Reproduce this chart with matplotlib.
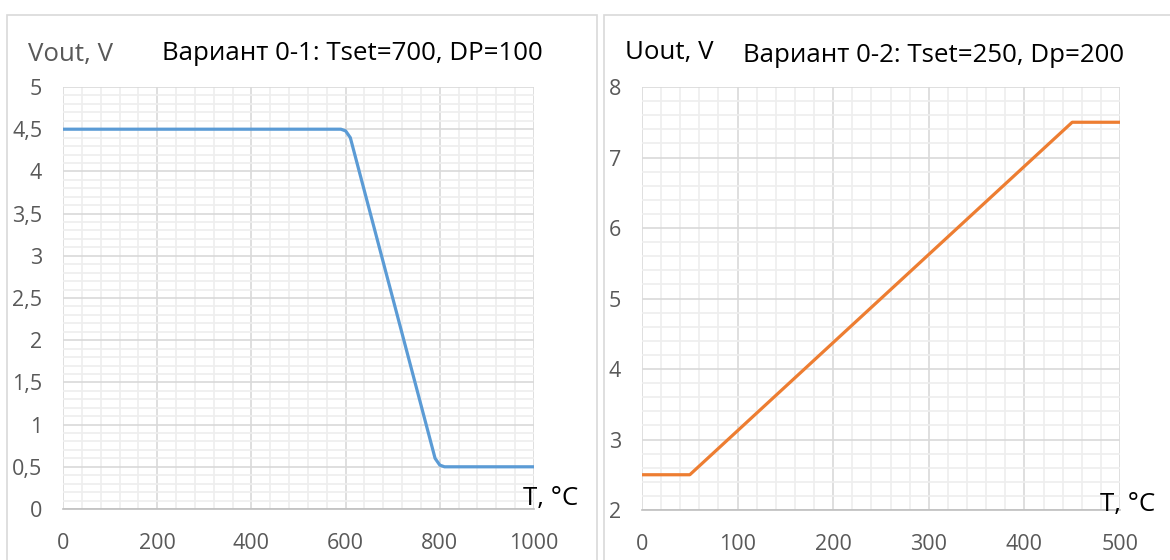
import matplotlib
matplotlib.use("Agg")
import matplotlib.pyplot as plt
from matplotlib.patches import Rectangle
import numpy as np

plt.rcParams['font.family'] = ['Open Sans', 'DejaVu Sans']

# Data: panel 1
t1 = [0, 590, 600, 610, 790, 800, 810, 1000]
v1 = [4.5, 4.5, 4.48, 4.4, 0.6, 0.52, 0.5, 0.5]
# Data: panel 2
t2 = [0, 50, 450, 500]
v2 = [2.5, 2.5, 7.5, 7.5]

title1 = "Вариант 0-1: Tset=700, DP=100"
title2 = "Вариант 0-2: Tset=250, Dp=200"
ylab1 = "Vout, V"
ylab2 = "Uout, V"
xlab = "T, °C"

W, H = 1170, 560
fig = plt.figure(figsize=(W/100, H/100), dpi=100)

def fx(px): return px / W
def fy(py): return 1 - py / H

# panel borders
fig.patches.append(Rectangle((fx(7), fy(570)), fx(597-7), (570-15)/H,
                             transform=fig.transFigure, fill=False,
                             edgecolor='#d9d9d9', lw=1.2))
fig.patches.append(Rectangle((fx(604), fy(570)), fx(1180-604), (570-15)/H,
                             transform=fig.transFigure, fill=False,
                             edgecolor='#d9d9d9', lw=1.2))

tick_color = '#595959'
fs = 15.5
tfs = 18.6

def make_ax(left, right, top, bottom, xmax, xmajor, xminor, ymin, ymax, ymajor, yminor, fmt):
    ax = fig.add_axes([fx(left), fy(bottom), fx(right - left), (bottom - top) / H])
    ax.set_xlim(0, xmax)
    ax.set_ylim(ymin, ymax)
    ax.set_xticks(np.arange(0, xmax + 1e-9, xmajor))
    ax.set_xticks(np.arange(0, xmax + 1e-9, xminor), minor=True)
    ax.set_yticks(np.arange(ymin, ymax + 1e-9, ymajor))
    ax.set_yticks(np.arange(ymin, ymax + 1e-9, yminor), minor=True)
    ax.grid(which='minor', color='#eeeeee', lw=1.2)
    ax.grid(which='major', color='#d9d9d9', lw=1.2)
    ax.set_axisbelow(True)
    for s in ['top', 'right', 'left']:
        ax.spines[s].set_visible(False)
    ax.spines['bottom'].set_color('#bfbfbf')
    ax.spines['bottom'].set_linewidth(1.2)
    ax.tick_params(which='both', length=0)
    ax.tick_params(axis='x', pad=17, labelsize=fs, colors=tick_color)
    ax.tick_params(axis='y', pad=15, labelsize=fs, colors=tick_color)
    ax.set_yticklabels([fmt(v) for v in ax.get_yticks()])
    ax.set_xticklabels([f"{int(v)}" for v in ax.get_xticks()])
    return ax

def fmt1(v):
    s = f"{v:g}".replace('.', ',')
    return s

ax1 = make_ax(63, 534, 87, 509, 1000, 200, 40, 0, 5, 0.5, 0.1, fmt1)
ax1.plot(t1, v1, color='#5b9bd5', lw=2.3, solid_joinstyle='round')
ax2 = make_ax(642, 1120, 87, 510, 500, 100, 20, 2, 8, 1, 0.2, lambda v: f"{int(v)}")
ax2.plot(t2, v2, color='#ed7d31', lw=2.3, solid_joinstyle='round')

fig.text(fx(28), fy(55), ylab1, fontsize=tfs, color='#595959', va='center', ha='left')
fig.text(fx(162), fy(53), title1, fontsize=tfs, color='black', va='center', ha='left')
fig.text(fx(625), fy(52), ylab2, fontsize=tfs, color='black', va='center', ha='left')
fig.text(fx(743), fy(56), title2, fontsize=tfs, color='black', va='center', ha='left')
fig.text(fx(523), fy(498), xlab, fontsize=tfs, color='black', va='center', ha='left')
fig.text(fx(1100), fy(505), xlab, fontsize=tfs, color='black', va='center', ha='left')

fig.savefig("out.png", dpi=100)
